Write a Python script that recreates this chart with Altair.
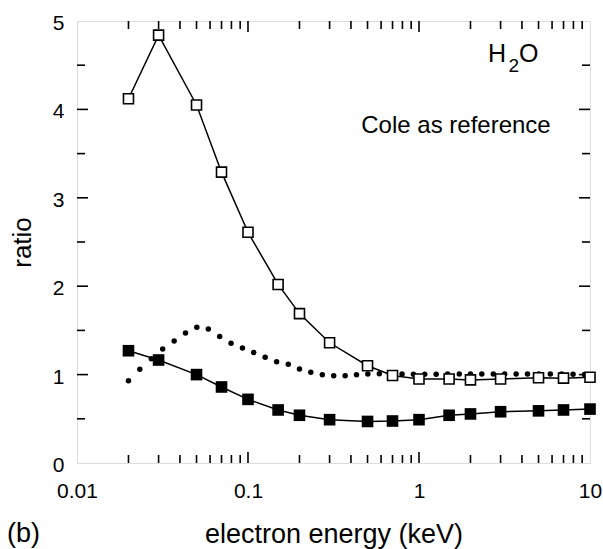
import altair as alt
import pandas as pd

# ---- data ----
energy_sq = [0.02, 0.03, 0.05, 0.07, 0.1, 0.15, 0.2, 0.3, 0.5, 0.7, 1, 1.5, 2, 3, 5, 7, 10]
open_ratio = [4.12, 4.84, 4.05, 3.29, 2.61, 2.02, 1.69, 1.36, 1.10, 0.99, 0.95, 0.95, 0.94, 0.95, 0.965, 0.96, 0.97]
filled_ratio = [1.27, 1.165, 1.00, 0.86, 0.72, 0.60, 0.54, 0.49, 0.47, 0.475, 0.49, 0.54, 0.555, 0.58, 0.59, 0.60, 0.61]

energy_dot = [0.02, 0.0233, 0.0272, 0.0317, 0.037, 0.0431, 0.0502, 0.0586, 0.0683, 0.0796,
              0.0928, 0.108, 0.126, 0.147, 0.172, 0.2, 0.233, 0.272, 0.317, 0.37,
              0.431, 0.502, 0.586, 0.683, 0.796, 0.928, 1.08, 1.26, 1.47, 1.72,
              2.0, 2.33, 2.72, 3.17, 3.7, 4.31, 5.02, 5.86, 6.83, 7.96, 9.28]
dot_ratio = [0.93, 1.06, 1.18, 1.29, 1.38, 1.47, 1.535, 1.515, 1.43, 1.355,
             1.30, 1.25, 1.195, 1.146, 1.117, 1.063, 1.026, 0.999, 0.988, 0.988,
             0.999, 1.008, 1.01, 1.01, 1.008, 1.005, 1.003, 1.005, 1.008, 1.008,
             1.007, 1.007, 1.008, 1.008, 1.007, 1.007, 1.006, 1.007, 1.007, 1.005, 1.0]

x_major = [0.01, 0.1, 1, 10]
x_minor = [0.02, 0.03, 0.04, 0.05, 0.06, 0.07, 0.08, 0.09,
           0.2, 0.3, 0.4, 0.5, 0.6, 0.7, 0.8, 0.9,
           2, 3, 4, 5, 6, 7, 8, 9]
y_major = [0, 1, 2, 3, 4, 5]
y_minor = [0.5, 1.5, 2.5, 3.5, 4.5]

W, H = 513, 442
FONT = "Liberation Sans"

df_sq = pd.DataFrame({"e": energy_sq, "open": open_ratio, "filled": filled_ratio})
df_dot = pd.DataFrame({"e": energy_dot, "r": dot_ratio})

xscale = alt.Scale(type="log", domain=[0.01, 10], nice=False)
yscale = alt.Scale(domain=[0, 5], nice=False, zero=False)
xaxis = alt.Axis(values=x_major, format="~g", ticks=False, tickSize=0, domain=False, grid=False,
                 labelFontSize=21, labelFont=FONT, labelColor="black", labelBaseline="alphabetic",
                 labelPadding=34, labelFlush=False, labelOverlap=False,
                 title="electron energy (keV)", titleFontSize=27, titleFont=FONT, titleFontWeight="normal",
                 titleColor="black", titleBaseline="alphabetic", titleX=W / 2, titleY=79,
                 titleAnchor="middle")
yaxis = alt.Axis(values=y_major, format="d", ticks=False, tickSize=0, domain=False, grid=False,
                 labelFontSize=21, labelFont=FONT, labelColor="black", labelPadding=13,
                 labelBaseline="middle", labelOffset=2.5, labelFlush=False, labelOverlap=False,
                 title="ratio", titleFontSize=26, titleFont=FONT, titleFontWeight="normal",
                 titleColor="black", titleBaseline="alphabetic", titleAngle=270, titleX=-47, titleY=H / 2,
                 titleAlign="center")


def X(field):
    return alt.X(field, type="quantitative", scale=xscale, axis=xaxis)


def Y(field):
    return alt.Y(field, type="quantitative", scale=yscale, axis=yaxis)


base_sq = alt.Chart(df_sq)
line_open = base_sq.mark_line(color="black", strokeWidth=1.5).encode(x=X("e"), y=Y("open"))
line_filled = base_sq.mark_line(color="black", strokeWidth=1.5).encode(x=X("e"), y=Y("filled"))
dots = alt.Chart(df_dot).mark_circle(color="black", size=30, opacity=1).encode(x=X("e"), y=Y("r"))
sq_open = base_sq.mark_square(fill="white", stroke="black", strokeWidth=1.6, size=100, opacity=1).encode(
    x=X("e"), y=Y("open"))
sq_filled = base_sq.mark_square(color="black", size=135, opacity=1).encode(x=X("e"), y=Y("filled"))

TL_MAJ, TL_MIN = 11, 8
tick_style = dict(color="black", strokeWidth=1.6)
dfxM = pd.DataFrame({"v": x_major[1:-1]})
dfxm = pd.DataFrame({"v": x_minor})
dfyM = pd.DataFrame({"v": y_major[1:-1]})
dfym = pd.DataFrame({"v": y_minor})

ticks = [
    alt.Chart(dfxM).mark_rule(**tick_style).encode(x=X("v"), y=alt.value(H), y2=alt.value(H - TL_MAJ)),
    alt.Chart(dfxm).mark_rule(**tick_style).encode(x=X("v"), y=alt.value(H), y2=alt.value(H - TL_MIN)),
    alt.Chart(dfxM).mark_rule(**tick_style).encode(x=X("v"), y=alt.value(0), y2=alt.value(TL_MAJ)),
    alt.Chart(dfxm).mark_rule(**tick_style).encode(x=X("v"), y=alt.value(0), y2=alt.value(TL_MIN)),
    alt.Chart(dfyM).mark_rule(**tick_style).encode(y=Y("v"), x=alt.value(0), x2=alt.value(TL_MAJ)),
    alt.Chart(dfym).mark_rule(**tick_style).encode(y=Y("v"), x=alt.value(0), x2=alt.value(TL_MIN)),
    alt.Chart(dfyM).mark_rule(**tick_style).encode(y=Y("v"), x=alt.value(W), x2=alt.value(W - TL_MAJ)),
    alt.Chart(dfym).mark_rule(**tick_style).encode(y=Y("v"), x=alt.value(W), x2=alt.value(W - TL_MIN)),
]


def label(txt, x, y, size, align="left"):
    return alt.Chart(pd.DataFrame({"t": [txt]})).mark_text(
        font=FONT, fontSize=size, color="black", align=align, baseline="alphabetic"
    ).encode(text="t:N", x=alt.value(x), y=alt.value(y))


texts = [
    label("H", 411, 41, 25),
    label("2", 431.5, 50.5, 19),
    label("O", 442, 41, 25),
    label("Cole as reference", 379, 112, 24, align="center"),
    label("(b)", -70, H + 79, 27),
]

chart = alt.layer(
    *ticks, line_open, line_filled, dots, sq_open, sq_filled, *texts
).properties(
    width=W, height=H,
    autosize=alt.AutoSizeParams(type="none"),
    padding={"left": 77, "top": 21, "right": 13, "bottom": 86},
).configure_view(
    stroke="black", strokeWidth=2
).configure(background="white")

chart.save("out.html", embed_options={"renderer": "svg", "actions": False})
